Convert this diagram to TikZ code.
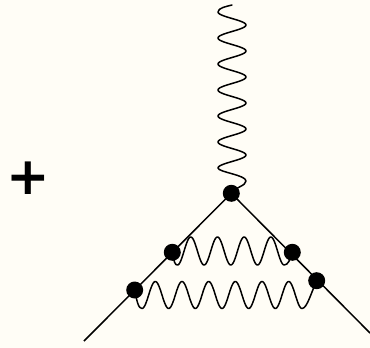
\documentclass[tikz,border=0pt]{standalone}
\usepackage{fontspec}
\usetikzlibrary{backgrounds}
\newfontfamily\plusfont{DejaVu Sans}[BoldFont={DejaVu Sans Bold}]
\definecolor{paper}{HTML}{FFFDF6}
\tikzset{
  vertexdot/.style={circle,fill=black,draw=none,inner sep=0pt,minimum size=17pt},
  fermion/.style={draw=black,line width=1.5pt},
  photon/.style={draw=black,line width=1.5pt,line join=round,line cap=round},
  plussign/.style={inner sep=0pt,outer sep=0pt,font=\plusfont\bfseries\fontsize{52}{52}\selectfont}
}
\begin{document}
\begin{tikzpicture}[x=1pt,y=-1pt]
\useasboundingbox (0,0) rectangle (370,348);
\node[plussign] (plus) at (28.3,178) {+};
\node[vertexdot] (top) at (231.3,193.3) {};
\node[vertexdot] (ul) at (172.3,252.3) {};
\node[vertexdot] (ur) at (292.3,252.3) {};
\node[vertexdot] (ll) at (134.7,290) {};
\node[vertexdot] (lr) at (316.7,280.7) {};
\coordinate (endl) at (84,341);
\coordinate (endr) at (370,333);
\coordinate (endt) at (232,5);
\begin{scope}[on background layer]
\fill[paper] (0,0) rectangle (370,348);
\draw[fermion] (top.center) -- (endl);
\draw[fermion] (top.center) -- (endr);
% external photon
\draw[photon] (endt) .. controls (226,6.5) and (218,8) .. (218,12)
  -- plot[domain=12:168,samples=190] ({232-14*cos((\x-12)/26*360)},\x)
  .. controls (218,172) and (246,175) .. (246,181)
  .. controls (246,186) and (235,187) .. (top.center);
% upper internal photon
\draw[photon] (ul.center) .. controls (174,262) and (175,265) .. (177.4,265)
  -- plot[domain=177.4:284.2,samples=130] (\x,{251-14*cos((\x-190.75)/26.7*360)})
  .. controls (288,265) and (290,260) .. (ur.center);
% lower internal photon
\draw[photon] (ll.center) .. controls (137,302) and (138.5,308.5) .. (142,308.5)
  -- plot[domain=142:302,samples=190] (\x,{295-13.5*cos((\x-155.33)/26.67*360)})
  .. controls (307,308.5) and (311,293) .. (lr.center);
\end{scope}
\end{tikzpicture}
\end{document}
